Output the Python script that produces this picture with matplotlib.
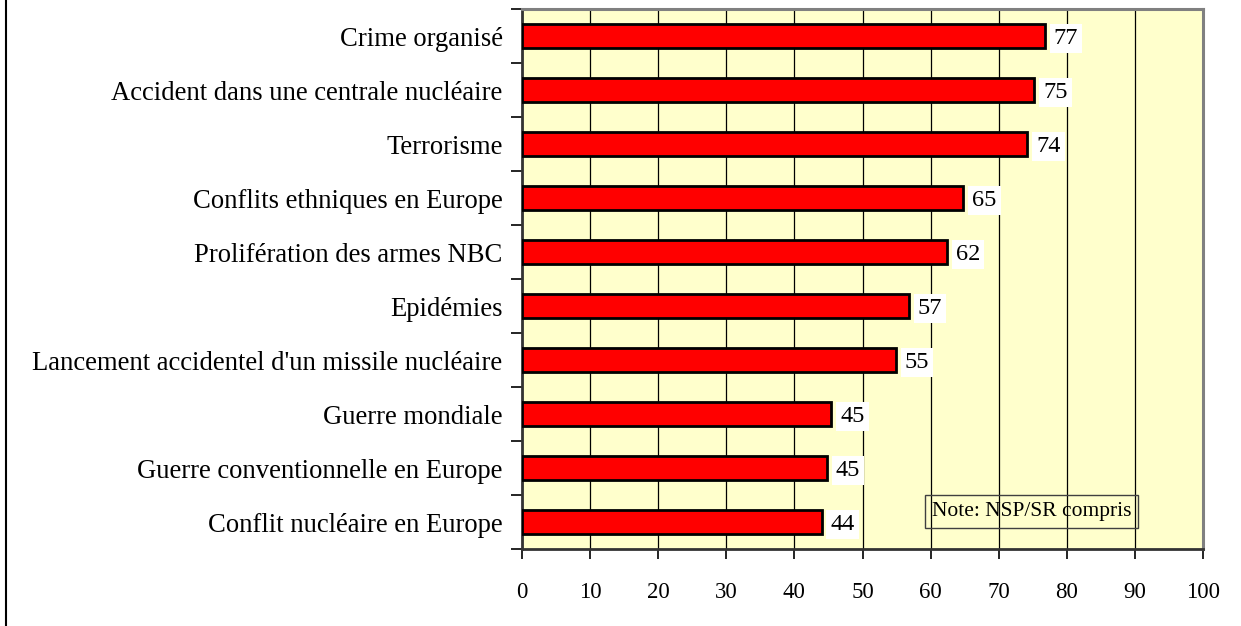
import numpy as np
import matplotlib.pyplot as plt
from matplotlib.lines import Line2D

# categories from top to bottom
categories = ["Crime organisé",
              "Accident dans une centrale nucléaire",
              "Terrorisme",
              "Conflits ethniques en Europe",
              "Prolifération des armes NBC",
              "Epidémies",
              "Lancement accidentel d'un missile nucléaire",
              "Guerre mondiale",
              "Guerre conventionnelle en Europe",
              "Conflit nucléaire en Europe"]
values = [76.8, 75.2, 74.2, 64.8, 62.4, 56.8, 54.9, 45.4, 44.8, 44.0]
value_labels = ["77", "75", "74", "65", "62", "57", "55", "45", "45", "44"]
note = "Note: NSP/SR compris"

plt.rcParams['font.family'] = ['Liberation Serif', 'DejaVu Serif']

fig = plt.figure(figsize=(12.41, 6.26), dpi=100)
ax = fig.add_axes([522 / 1241, 1 - 549 / 626, 681 / 1241, 540 / 626])
ax.set_facecolor("#FFFFCC")

y = np.arange(len(categories))
ax.barh(y, values, height=0.43, color="#FF0000", edgecolor="black",
        linewidth=2, zorder=3)

for yi, v, lab in zip(y, values, value_labels):
    ax.text(v + 1.3, yi, lab, ha="left", va="center_baseline",
            fontsize=17.5, zorder=4,
            bbox=dict(facecolor="white", edgecolor="none", pad=3))

ax.set_xlim(0, 100)
ax.set_ylim(len(categories) - 0.5, -0.5)

# gridlines
ax.set_xticks(np.arange(0, 101, 10))
ax.xaxis.grid(True, color="black", linewidth=0.9, zorder=1)
ax.set_axisbelow(True)

# category labels sit between boundary ticks
ax.set_yticks(np.arange(-0.5, len(categories), 1.0))
ax.set_yticklabels([])
ax.set_yticks(y, minor=True)
ax.set_yticklabels(categories, minor=True, fontsize=19.2)
ax.tick_params(axis="y", which="minor", length=0, pad=14)
ax.tick_params(axis="y", which="major", length=8, width=1.2, direction="out")
ax.tick_params(axis="x", length=7, width=1.2, direction="out",
               labelsize=16.5, pad=17)

for s in ["top", "right"]:
    ax.spines[s].set_color("#808080")
    ax.spines[s].set_linewidth(2.2)
for s in ["left", "bottom"]:
    ax.spines[s].set_color("#333333")
    ax.spines[s].set_linewidth(2)

# note box
ax.text(60.2, 8.8, note, ha="left", va="center", fontsize=15.5, zorder=5,
        bbox=dict(facecolor="none", edgecolor="#404040", linewidth=1,
                  pad=5))

# outer frame line on the left
fig.add_artist(Line2D([6 / 1241, 6 / 1241], [0, 1], color="black",
                      linewidth=1.5, transform=fig.transFigure))

fig.savefig("out.png", dpi=100)
